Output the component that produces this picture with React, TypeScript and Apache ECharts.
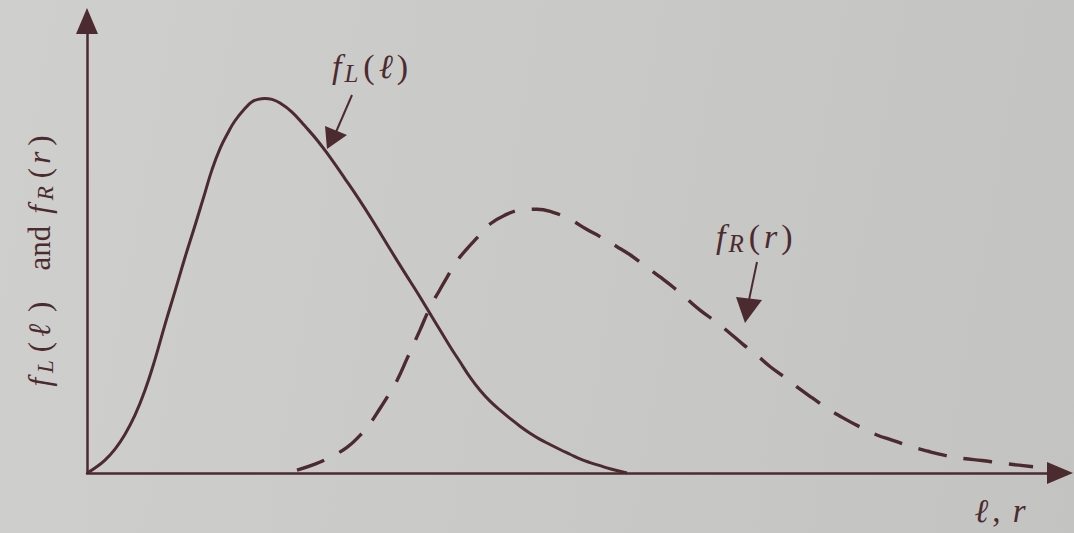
import React, { useEffect, useRef } from "react";
import * as echarts from "echarts";

// Load density f_L(ℓ): solid curve
const loadX = [0, 0.82, 1.85, 2.88, 3.91, 4.93, 5.96, 6.99, 8.02, 9.04, 10.07, 11.1, 12.13, 12.85, 13.67, 14.49, 15.21, 16.24, 16.96, 17.57, 18.29, 19.01, 19.84, 21.07, 22.4, 23.74, 24.97, 26.52, 28.06, 29.6, 31.14, 32.68, 34.02, 35.56, 37.31, 38.33, 39.36, 40.39, 41.42, 42.45, 43.47, 44.5, 45.53, 46.56, 47.58, 48.61, 49.64, 50.67, 51.7, 52.72, 53.75, 55.5];
const loadY = [0, 1.1, 2.85, 5.28, 8.58, 12.78, 18.3, 25.14, 32.88, 40.17, 47.68, 54.75, 62.04, 67.12, 71.75, 75.28, 77.93, 80.68, 82.12, 82.66, 82.87, 82.65, 81.86, 79.86, 76.75, 73.41, 69.86, 65.09, 60.2, 54.98, 49.55, 44.22, 39.67, 34.2, 28.0, 24.6, 21.2, 18.3, 15.9, 13.9, 12.1, 10.35, 8.8, 7.45, 6.3, 5.2, 4.15, 3.1, 2.3, 1.62, 0.95, 0];

// Resistance density f_R(r): dashed curve
const resX = [21.58, 23.43, 24.97, 26.72, 28.06, 29.09, 30.11, 31.14, 31.86, 32.89, 34.22, 35.25, 36.28, 37.0, 38.03, 39.05, 40.08, 41.42, 42.96, 44.5, 46.25, 47.89, 49.64, 51.39, 52.72, 54.47, 55.81, 57.35, 58.89, 60.23, 61.66, 63.0, 64.54, 66.08, 67.42, 68.86, 70.19, 71.74, 73.07, 74.51, 76.16, 77.7, 79.45, 81.19, 82.73, 84.58, 86.43, 88.18, 90.03, 91.98, 93.63, 95.38, 97.23];
const resY = [0.65, 1.96, 3.49, 5.68, 8.32, 10.96, 14.27, 17.8, 20.45, 25.3, 31.6, 36.6, 40.6, 43.3, 46.9, 49.6, 52.0, 55.08, 57.05, 58.14, 58.35, 57.66, 56.1, 53.86, 52.3, 50.07, 48.28, 45.83, 43.38, 41.16, 38.49, 36.04, 33.6, 30.92, 28.47, 26.02, 23.57, 21.12, 18.89, 16.66, 14.2, 12.2, 10.19, 8.4, 7.28, 5.94, 4.81, 3.9, 3.22, 2.76, 2.3, 1.83, 1.37];

const INK = "#4b2b2f";
const SERIF = "'Liberation Serif', 'DejaVu Serif', serif";

const zip = (xs: number[], ys: number[]) => xs.map((x, i) => [x, ys[i]]);

type Pad = [number, number, number, number];
const tok = (size: number, italic: boolean, padding: Pad) => ({
  fontStyle: italic ? "italic" : "normal",
  fontSize: size,
  fontFamily: SERIF,
  fill: INK,
  color: INK,
  padding,
});

const richStyles = (size: number, gap: number) => ({
  f: tok(size, true, [0, 1, 0, 0]),
  i: tok(size, true, [0, gap, 0, gap]),
  s: tok(Math.round(size * 0.74), true, [Math.round(size * 0.42), gap + 1, 0, gap]),
  n: tok(size, false, [0, gap, 0, gap]),
});

// wider, hand-spaced styles for the rotated y-axis title
const yTitleRich = {
  f: tok(31, true, [0, 2, 0, 0]),
  s: tok(23, true, [13, 6, 0, 3]),
  o: tok(31, false, [0, 2, 0, 2]),
  l: tok(31, true, [0, 12, 0, 3]),
  c: tok(31, false, [0, 0, 0, 0]),
  w: tok(31, false, [0, 12, 0, 31]),
  r: tok(31, true, [0, 6, 0, 2]),
};

export default function App() {
  const ref = useRef<HTMLDivElement>(null);

  useEffect(() => {
    if (!ref.current) return;
    const chart = echarts.init(ref.current, null, { renderer: "svg" });

    const axisCommon = {
      type: "value" as const,
      min: 0,
      max: 100,
      axisLabel: { show: false },
      axisTick: { show: false },
      splitLine: { show: false },
      axisLine: {
        show: true,
        symbol: ["none", "triangle"],
        symbolSize: [22, 26],
        symbolOffset: [0, 0],
        lineStyle: { color: INK, width: 2.5 },
      },
    };

    chart.setOption({
      animation: false,
      backgroundColor: "transparent",
      grid: { left: 87, right: 14, top: 21, bottom: 60 },
      xAxis: { ...axisCommon },
      yAxis: { ...axisCommon },
      series: [
        {
          name: "f_L",
          type: "line",
          data: zip(loadX, loadY),
          showSymbol: false,
          smooth: 0.45,
          lineStyle: { color: INK, width: 3 },
        },
        {
          name: "f_R",
          type: "line",
          data: zip(resX, resY),
          showSymbol: false,
          smooth: 0.45,
          lineStyle: { color: INK, width: 3.4, type: [29, 17] },
        },
      ],
      graphic: [
        // curve labels with pointer arrows
        {
          type: "text",
          x: 332,
          y: 66,
          style: {
            text: "{f|f}{s|L}{n|(}{i|ℓ}{n|)}",
            rich: richStyles(34, 2),
            align: "left",
            verticalAlign: "middle",
            fill: INK,
          },
        },
        {
          type: "line",
          shape: { x1: 352, y1: 95, x2: 336, y2: 132 },
          style: { stroke: INK, lineWidth: 2 },
        },
        {
          type: "polygon",
          shape: { points: [[325, 126], [347, 135], [327, 149]] },
          style: { fill: INK },
        },
        {
          type: "text",
          x: 716,
          y: 236,
          style: {
            text: "{f|f}{s|R}{n|(}{i|r}{n|)}",
            rich: richStyles(34, 2),
            align: "left",
            verticalAlign: "middle",
            fill: INK,
          },
        },
        {
          type: "line",
          shape: { x1: 757, y1: 262, x2: 749, y2: 300 },
          style: { stroke: INK, lineWidth: 2 },
        },
        {
          type: "polygon",
          shape: { points: [[736, 297], [762, 300], [745, 323]] },
          style: { fill: INK },
        },
        // axis titles
        {
          type: "text",
          x: 1000,
          y: 511,
          style: {
            text: "{i|ℓ}{n|,}{i| r}",
            rich: richStyles(33, 2),
            align: "center",
            verticalAlign: "middle",
            fill: INK,
          },
        },
        {
          type: "text",
          x: 39,
          y: 261,
          rotation: Math.PI / 2,
          style: {
            text: "{f|f}{s|L}{o|(}{l|ℓ}{c|)}{w|and}{f|f}{s|R}{o|(}{r|r}{c|)}",
            rich: yTitleRich,
            align: "center",
            verticalAlign: "middle",
            fill: INK,
          },
        },
      ],
    });

    return () => chart.dispose();
  }, []);

  return (
    <div
      style={{
        position: "fixed",
        left: 0,
        top: 0,
        width: 1074,
        height: 533,
        background: "linear-gradient(100deg, #cfcfcd 0%, #c9c9c7 50%, #c3c3c1 100%)",
      }}
    >
      <div ref={ref} style={{ width: 1074, height: 533 }} />
    </div>
  );
}
